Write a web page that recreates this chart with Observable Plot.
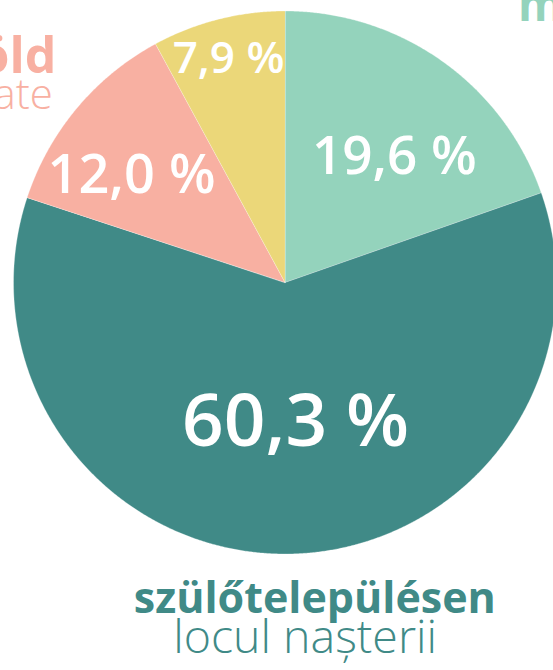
<!DOCTYPE html>
<html>
<head>
<meta charset="utf-8">
<script src="https://cdn.jsdelivr.net/npm/d3@7"></script>
<script src="https://cdn.jsdelivr.net/npm/@observablehq/plot@0.6"></script>
<style>
  html, body { margin: 0; padding: 0; background: #fff; overflow: hidden; }
  #chart svg { display: block; }
</style>
</head>
<body>
<div id="chart"></div>
<script>
// ---- data ----
const categories = ["más településen", "szülőtelepülésen", "külföld", "egyéb"];
const values = [19.6, 60.3, 12.0, 7.9];
const valueLabels = ["19,6 %", "60,3 %", "12,0 %", "7,9 %"];
const sliceColors = ["#94d3bc", "#408a87", "#f8b0a2", "#ebd779"];

// category captions (Hungarian / Romanian)
const captionsHu = ["más településen", "szülőtelepülésen", "külföld"];
const captionsRo = ["", "locul nașterii", "străinătate"];

// ---- layout (unit-circle coordinates, y up) ----
const W = 553, H = 670;
const CX = 284.5, CY = 282, R = 271.5;
// per-slice value label anchor (baseline centre) and font size
const valueLabelPos = [[0.403, 0.401], [0.039, -0.604], [-0.565, 0.331], [-0.208, 0.773]];
const valueLabelSize = [53, 73, 54, 44];
// caption anchors: [x, y, anchor] for Hungarian line and Romanian line
const captionHuPos = [[0.858, 0.965, "start"], [0.110, -1.219, "middle"], [-0.842, 0.773, "end"]];
const captionHuSize = [46, 43, 50];
const captionRoPos = [[0.858, 0.80, "start"], [0.074, -1.363, "middle"], [-0.855, 0.640, "end"]];
const captionRoSize = [42, 46.5, 42];
const captionColors = ["#94d3bc", "#408a87", "#f8b0a2"];

// ---- build slice polygons ----
const arcs = d3.pie().sort(null).value(d => d)(values);
const polyRows = [];
arcs.forEach((a, i) => {
  polyRows.push({slice: categories[i], color: sliceColors[i], x: 0, y: 0});
  const n = Math.max(8, Math.ceil((a.endAngle - a.startAngle) / 0.005));
  for (let k = 0; k <= n; k++) {
    const t = a.startAngle + (a.endAngle - a.startAngle) * k / n;
    polyRows.push({slice: categories[i], color: sliceColors[i], x: Math.sin(t), y: Math.cos(t)});
  }
});

const valueRows = valueLabels.map((t, i) => ({text: t, x: valueLabelPos[i][0], y: valueLabelPos[i][1], size: valueLabelSize[i]}));
const huRows = captionsHu.map((t, i) => ({text: t, x: captionHuPos[i][0], y: captionHuPos[i][1], anchor: captionHuPos[i][2], color: captionColors[i], size: captionHuSize[i]}));
const roRows = captionsRo.map((t, i) => ({text: t, x: captionRoPos[i][0], y: captionRoPos[i][1], anchor: captionRoPos[i][2], color: captionColors[i], size: captionRoSize[i]})).filter(d => d.text);

const font = "'Open Sans', sans-serif";

const textMarks = (rows, opts) => rows.map(d => Plot.text([d], {
  x: "x", y: "y", text: "text",
  textAnchor: d.anchor || "middle",
  lineAnchor: "bottom",
  fill: d.color || "white",
  fontSize: d.size,
  fontWeight: opts.fontWeight,
  fontFamily: font
}));

const chart = Plot.plot({
  width: W,
  height: H,
  margin: 0,
  style: {background: "white", fontFamily: font, overflow: "hidden"},
  x: {domain: [-CX / R, (W - CX) / R], range: [0, W], axis: null},
  y: {domain: [CY / R, -(H - CY) / R], range: [0, H], axis: null},
  color: {type: "identity"},
  marks: [
    Plot.line(polyRows, {
      x: "x", y: "y", z: "slice", fill: "color",
      stroke: "white", strokeWidth: 0.5, strokeOpacity: 0.6,
      curve: "linear-closed"
    }),
    ...textMarks(valueRows, {fontWeight: 600}),
    ...textMarks(huRows, {fontWeight: 700}),
    ...textMarks(roRows, {fontWeight: 300})
  ]
});
document.getElementById("chart").appendChild(chart);
</script>
</body>
</html>
